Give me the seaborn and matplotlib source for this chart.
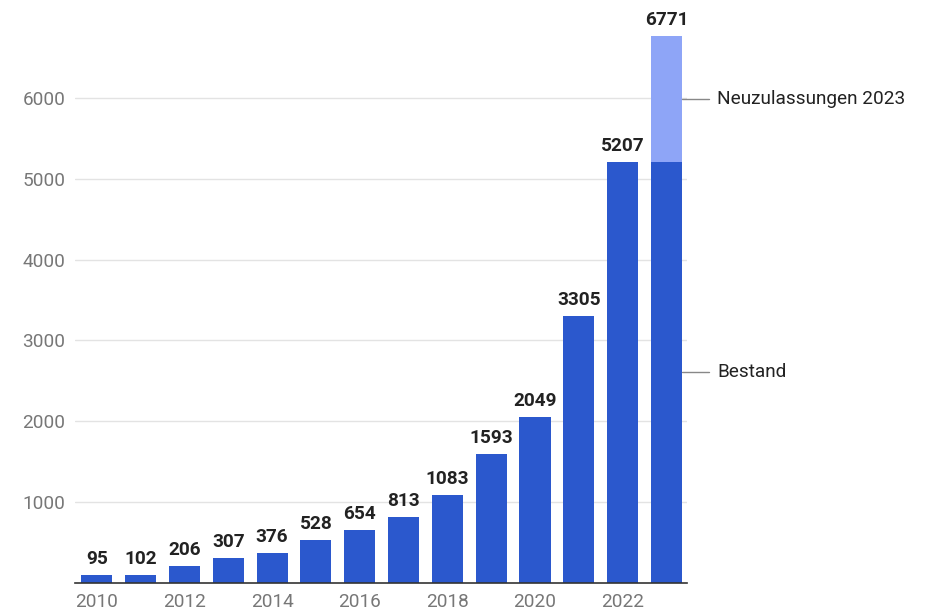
import matplotlib
matplotlib.use("Agg")
import matplotlib.pyplot as plt
import seaborn as sns
import pandas as pd

# Data
years = [str(y) for y in range(2010, 2024)]
bestand = [95, 102, 206, 307, 376, 528, 654, 813, 1083, 1593, 2049, 3305, 5207, 5207]
gesamt = [95, 102, 206, 307, 376, 528, 654, 813, 1083, 1593, 2049, 3305, 5207, 6771]
y_ticks = [1000, 2000, 3000, 4000, 5000, 6000]
x_tick_labels = ["2010", "2012", "2014", "2016", "2018", "2020", "2022"]
series_labels = ["Neuzulassungen 2023", "Bestand"]

DARK = "#2B58CD"
LIGHT = "#8EA5F7"
FS = 13.7

sns.set_theme(style="white")
plt.rcParams["font.family"] = ["Roboto", "DejaVu Sans"]

df = pd.DataFrame({"Jahr": years, "Bestand": bestand, "Gesamt": gesamt})

fig = plt.figure(figsize=(9.32, 6.13), dpi=100)
ax = fig.add_axes([75 / 932, 30 / 613, (687 - 75) / 932, 566 / 613])

# total height (light) underneath, stock (dark) on top
sns.barplot(data=df, x="Jahr", y="Gesamt", color=LIGHT, saturation=1,
            width=0.71, linewidth=0, ax=ax, zorder=2)
sns.barplot(data=df, x="Jahr", y="Bestand", color=DARK, saturation=1,
            width=0.71, linewidth=0, ax=ax, zorder=3)

ax.set_xlim(-0.5, 13.47)
ax.set_ylim(0, 7000)
ax.set_yticks(y_ticks)
ax.set_yticklabels([str(t) for t in y_ticks])
ax.set_xticks([years.index(t) for t in x_tick_labels])
ax.set_xticklabels(x_tick_labels)
ax.set_xlabel("")
ax.set_ylabel("")

ax.grid(axis="y", color="#e3e3e3", linewidth=1, zorder=0)
ax.set_axisbelow(True)
for side in ["top", "right", "left"]:
    ax.spines[side].set_visible(False)
ax.spines["bottom"].set_color("#333333")
ax.spines["bottom"].set_linewidth(1.2)
ax.spines["bottom"].set_zorder(4)

ax.tick_params(axis="y", length=0, pad=7, labelsize=FS, labelcolor="#777777")
ax.tick_params(axis="x", length=0, pad=7.5, labelsize=FS, labelcolor="#777777")

# value labels above bars
for i, v in enumerate(gesamt):
    ax.annotate(str(v), (i, v), xytext=(0, 5), textcoords="offset points",
                ha="center", va="bottom", fontsize=FS, fontweight="bold",
                color="#222222")

# series labels with leader lines at the last bar
last = len(years) - 1
neu_mid = bestand[-1] + (gesamt[-1] - bestand[-1]) / 2
bestand_mid = bestand[-1] / 2
for label, yv in zip(series_labels, [neu_mid, bestand_mid]):
    ax.plot([last + 0.36, last + 0.98], [yv, yv], color="#888888",
            linewidth=1, clip_on=False, zorder=5)
    ax.text(last + 1.16, yv, label, ha="left", va="center", fontsize=FS,
            color="#222222", clip_on=False)

fig.savefig("out.png", dpi=100, facecolor="white")
